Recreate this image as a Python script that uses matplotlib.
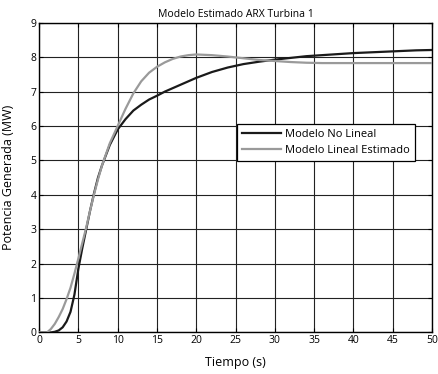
import numpy as np
import matplotlib.pyplot as plt

plt.rcParams['font.family'] = ['Open Sans', 'DejaVu Sans']

# tiempo (s) y potencia (MW) de ambos modelos
t = [0, 1, 1.5, 2, 2.5, 3, 3.5, 4, 4.5, 5, 5.5, 6, 6.5, 7, 7.5, 8, 9, 10,
     11, 12, 13, 14, 15, 16, 17, 18, 19, 20, 22, 24, 26, 28, 30, 32, 34,
     36, 38, 40, 42, 44, 46, 48, 50]
p_no_lineal = [0, 0, 0, 0.02, 0.06, 0.15, 0.32, 0.6, 1.1, 1.85, 2.45, 3.0,
               3.55, 4.05, 4.5, 4.85, 5.45, 5.9, 6.2, 6.45, 6.62, 6.77, 6.88,
               7.0, 7.1, 7.2, 7.3, 7.4, 7.57, 7.7, 7.8, 7.87, 7.93, 7.98,
               8.03, 8.06, 8.09, 8.12, 8.14, 8.16, 8.18, 8.2, 8.21]
p_lineal = [0, 0, 0.1, 0.25, 0.45, 0.68, 0.97, 1.3, 1.71, 2.15, 2.6, 3.05,
            3.55, 4.02, 4.45, 4.85, 5.5, 6.0, 6.5, 6.95, 7.3, 7.55, 7.72,
            7.85, 7.95, 8.02, 8.06, 8.08, 8.06, 8.02, 7.97, 7.92, 7.89, 7.86,
            7.84, 7.83, 7.83, 7.83, 7.83, 7.83, 7.83, 7.83, 7.83]

fig = plt.figure(figsize=(4.39, 3.74), dpi=100, facecolor='white')
ax = fig.add_axes([0.089, 0.111, 0.895, 0.828])

ax.plot(t, p_no_lineal, color='#1a1a1a', lw=1.6, label='Modelo No Lineal', zorder=3)
ax.plot(t, p_lineal, color='#9a9a9a', lw=1.6, label='Modelo Lineal Estimado', zorder=3)

ax.set_xlim(0, 50)
ax.set_ylim(0, 9)
ax.set_xticks(np.arange(0, 51, 5))
ax.set_yticks(np.arange(0, 10, 1))
ax.grid(True, color='#222222', lw=0.8)
ax.tick_params(direction='in', top=True, right=True, labelsize=7.5, length=3, pad=2)
for s in ax.spines.values():
    s.set_linewidth(1.0)

ax.set_title('Modelo Estimado ARX Turbina 1', fontsize=7.5, pad=4)
ax.set_xlabel('Tiempo (s)', fontsize=9, labelpad=7)
ax.set_ylabel('Potencia Generada (MW)', fontsize=9)
ax.yaxis.set_label_coords(-0.06, 0.5)

leg = ax.legend(loc='upper left', bbox_to_anchor=(0.503, 0.673), fontsize=8,
                fancybox=False, framealpha=1, edgecolor='black',
                handlelength=3.5, handletextpad=0.4, borderpad=0.45,
                labelspacing=0.4, borderaxespad=0)
leg.get_frame().set_linewidth(0.9)

fig.savefig('out.png', dpi=100)
